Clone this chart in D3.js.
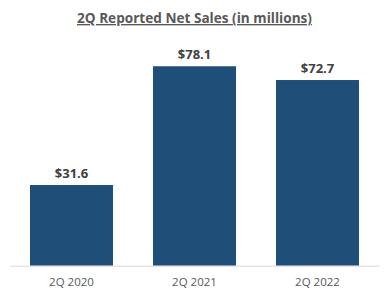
<!DOCTYPE html>
<html>
<head>
<meta charset="utf-8">
<script src="https://cdn.jsdelivr.net/npm/d3@7"></script>
<style>
  body { margin: 0; background: #fff; }
  svg { display: block; }
</style>
</head>
<body>
<div id="chart-container"></div>
<script>
var categories = ["2Q 2020", "2Q 2021", "2Q 2022"];
var sales = [31.6, 78.1, 72.7];
var valueLabels = ["$31.6", "$78.1", "$72.7"];

var width = 389, height = 297;
var baseline = 265.7;

var svg = d3.select("#chart-container")
    .append("svg")
    .attr("width", width)
    .attr("height", height);

var xScale = d3.scaleBand()
    .domain(categories)
    .range([10, 379])
    .paddingInner(0.325)
    .paddingOuter(0.1625);

// 31.6 -> ~80.7px tall
var yScale = d3.scaleLinear()
    .domain([0, 100])
    .range([baseline, baseline - 255.4]);

// title
svg.append("text")
    .attr("x", 194.5)
    .attr("y", 23)
    .attr("text-anchor", "middle")
    .style("font-family", "'Open Sans', sans-serif")
    .style("font-size", "13.6px")
    .style("font-weight", "bold")
    .style("fill", "#595959")
    .style("text-decoration", "underline")
    .text("2Q Reported Net Sales (in millions)");

var data = categories.map(function (c, i) {
    return { cat: c, value: sales[i], label: valueLabels[i] };
});

svg.selectAll("rect.bar")
    .data(data)
    .enter()
    .append("rect")
    .attr("class", "bar")
    .attr("x", function (d) { return xScale(d.cat); })
    .attr("y", function (d) { return yScale(d.value); })
    .attr("width", xScale.bandwidth())
    .attr("height", function (d) { return baseline - yScale(d.value); })
    .attr("fill", "#1f4e79");

svg.selectAll("text.val")
    .data(data)
    .enter()
    .append("text")
    .attr("class", "val")
    .attr("x", function (d) { return xScale(d.cat) + xScale.bandwidth() / 2; })
    .attr("y", function (d) { return yScale(d.value) - 7; })
    .attr("text-anchor", "middle")
    .style("font-family", "'Open Sans', sans-serif")
    .style("font-size", "13px")
    .style("font-weight", "bold")
    .style("fill", "#404040")
    .text(function (d) { return d.label; });

// x axis
var xAxis = d3.axisBottom(xScale).tickSize(0).tickPadding(12);
var gx = svg.append("g")
    .attr("transform", "translate(0," + baseline + ")")
    .call(xAxis);
gx.select(".domain").attr("stroke", "#d9d9d9").attr("stroke-width", 1);
gx.selectAll("text")
    .style("font-family", "'Open Sans', sans-serif")
    .style("font-size", "11.5px")
    .style("fill", "#595959");
</script>
</body>
</html>
